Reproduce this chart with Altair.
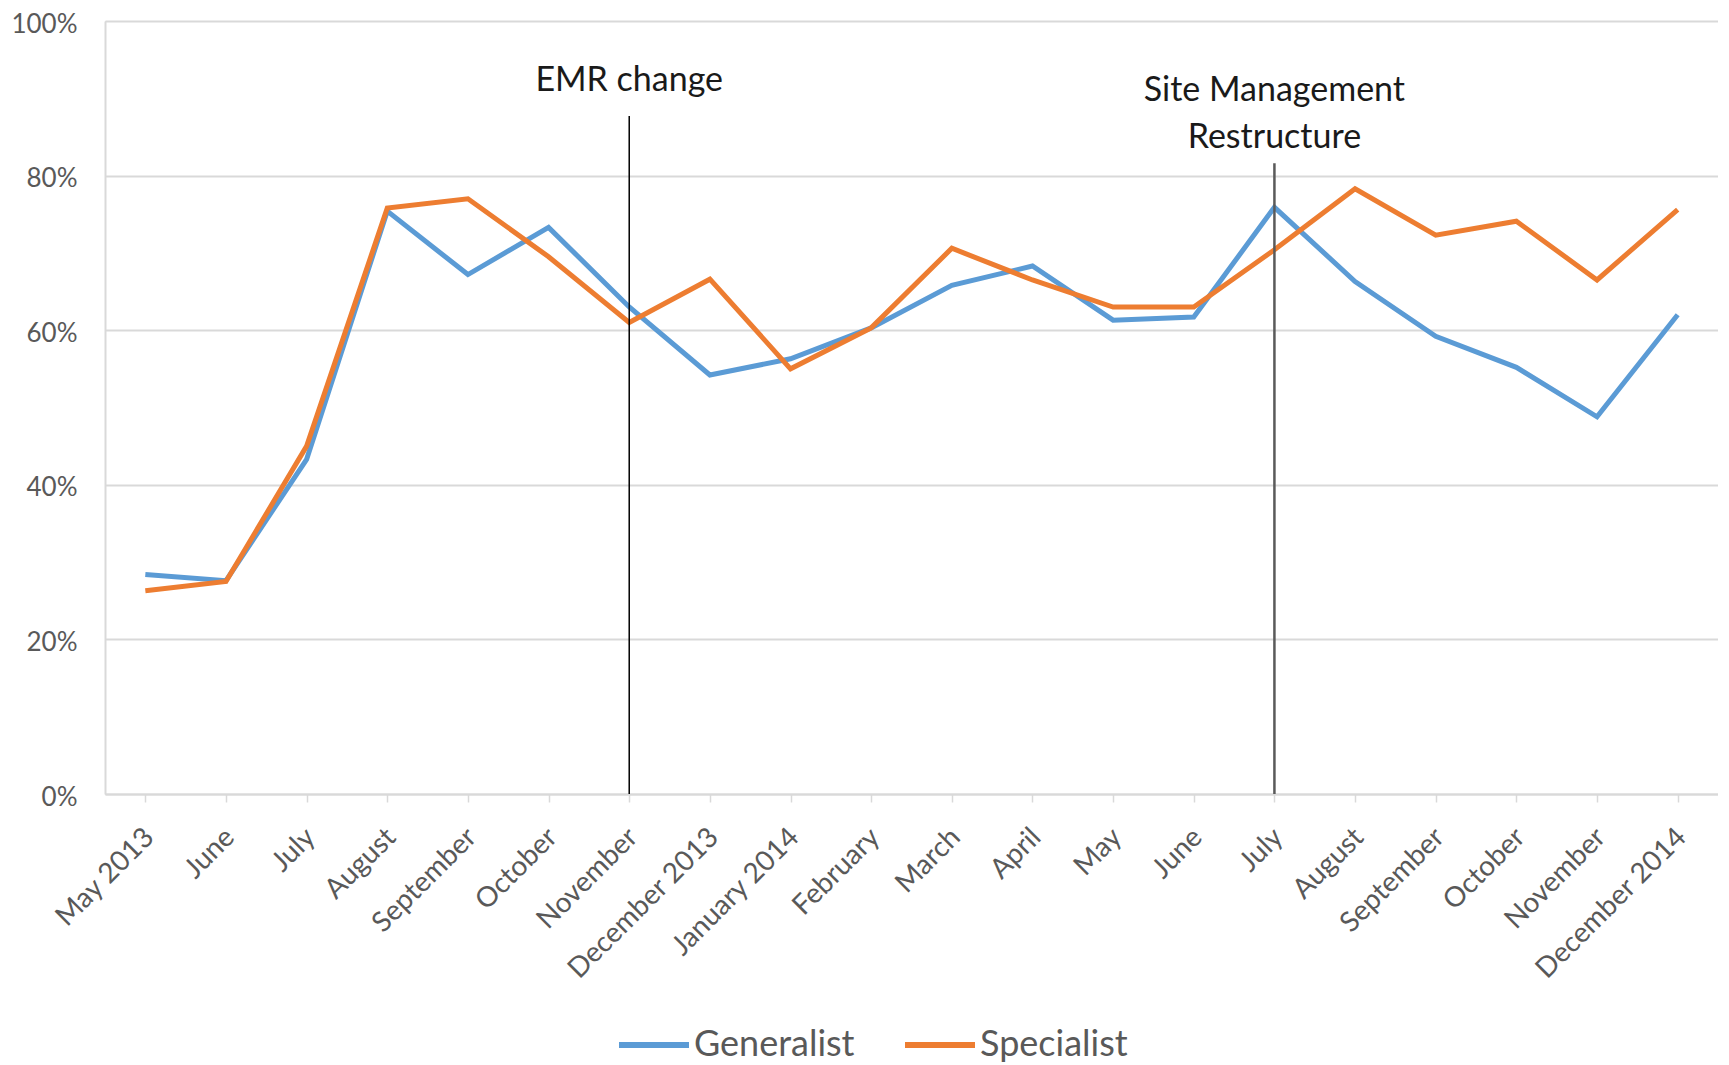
import json
import altair as alt
import pandas as pd

months = ["May 2013", "June", "July", "August", "September", "October", "November",
          "December 2013", "January 2014", "February", "March", "April", "May", "June",
          "July", "August", "September", "October", "November", "December 2014"]
generalist = [28.4, 27.6, 43.3, 75.4, 67.2, 73.3, 63.0, 54.2, 56.3, 60.3,
              65.8, 68.3, 61.3, 61.7, 75.9, 66.3, 59.2, 55.2, 48.8, 62.0]
specialist = [26.3, 27.5, 45.0, 75.8, 77.0, 69.5, 61.0, 66.6, 55.0, 60.3,
              70.6, 66.5, 63.0, 63.0, 70.4, 78.3, 72.3, 74.1, 66.5, 75.6]
series_names = ["Generalist", "Specialist"]
series_colors = ["#5b9bd5", "#ed7d31"]

# events (index into months, top of the marker line in %)
emr_idx, emr_top = 6, 87.7
site_idx, site_top = 14, 81.6
label_texts = ["EMR change", "Site Management", "Restructure"]
label_idx = [6, 14, 14]
label_pct = [92.3, 91.0, 84.8]

FONT = "Lato"

rows = []
for i, m in enumerate(months):
    rows.append({"idx": i, "month": m, "series": "Generalist", "value": generalist[i] / 100})
    rows.append({"idx": i, "month": m, "series": "Specialist", "value": specialist[i] / 100})
df = pd.DataFrame(rows)

label_expr = json.dumps(months) + "[datum.value]"

x_scale = alt.Scale(domain=[-0.5, len(months) - 0.5], nice=False, zero=False)
y_scale = alt.Scale(domain=[0, 1], nice=False)

x_axis = alt.Axis(values=list(range(len(months))), labelExpr=label_expr, labelAngle=-45,
                  labelOverlap=False, labelLimit=0, grid=False, tickSize=8,
                  tickColor="#d9d9d9", tickWidth=1.5, domainColor="#d9d9d9", domainWidth=2,
                  labelFont=FONT, labelFontSize=28, labelColor="#595959",
                  labelPadding=21, labelOffset=-6, title=None)
y_axis = alt.Axis(values=[0, 0.2, 0.4, 0.6, 0.8, 1.0], format=".0%", grid=True,
                  gridColor="#d9d9d9", gridWidth=2, ticks=False, domainColor="#d9d9d9",
                  domainWidth=2, labelFont=FONT, labelFontSize=26, labelColor="#595959",
                  labelPadding=28, labelOffset=3, title=None)

lines = alt.Chart(df).mark_line(strokeWidth=5).encode(
    x=alt.X("idx:Q", scale=x_scale, axis=x_axis),
    y=alt.Y("value:Q", scale=y_scale, axis=y_axis),
    color=alt.Color("series:N", scale=alt.Scale(domain=series_names, range=series_colors),
                    legend=alt.Legend(title=None, orient="none", direction="horizontal",
                                      legendX=511, legendY=986, symbolType="stroke",
                                      symbolSize=4900, symbolStrokeWidth=6,
                                      labelFont=FONT, labelFontSize=36, labelLimit=0,
                                      labelColor="#595959", labelOffset=2,
                                      columnPadding=38, padding=0)),
)

emr_df = pd.DataFrame({"idx": [emr_idx], "top": [emr_top / 100], "bottom": [0.0]})
site_df = pd.DataFrame({"idx": [site_idx], "top": [site_top / 100], "bottom": [0.0]})

emr_rule = alt.Chart(emr_df).mark_rule(color="#000000", strokeWidth=1.5).encode(
    x=alt.X("idx:Q", scale=x_scale), y="top:Q", y2="bottom:Q")
site_rule = alt.Chart(site_df).mark_rule(color="#5a5a5a", strokeWidth=2.5).encode(
    x=alt.X("idx:Q", scale=x_scale), y="top:Q", y2="bottom:Q")

lab_df = pd.DataFrame({"idx": label_idx, "pct": [p / 100 for p in label_pct], "text": label_texts})
labels = alt.Chart(lab_df).mark_text(font=FONT, fontSize=34, color="#1a1a1a",
                                     align="center", baseline="middle").encode(
    x=alt.X("idx:Q", scale=x_scale), y=alt.Y("pct:Q", scale=y_scale), text="text:N")

chart = alt.layer(lines, emr_rule, site_rule, labels).properties(
    width=1613, height=773,
    autosize=alt.AutoSizeParams(type="none"),
    padding={"left": 97, "top": 13, "right": 0, "bottom": 271},
).configure_view(stroke=None).configure(background="white")

chart.save("out.html", embed_options={"renderer": "svg", "actions": False})
